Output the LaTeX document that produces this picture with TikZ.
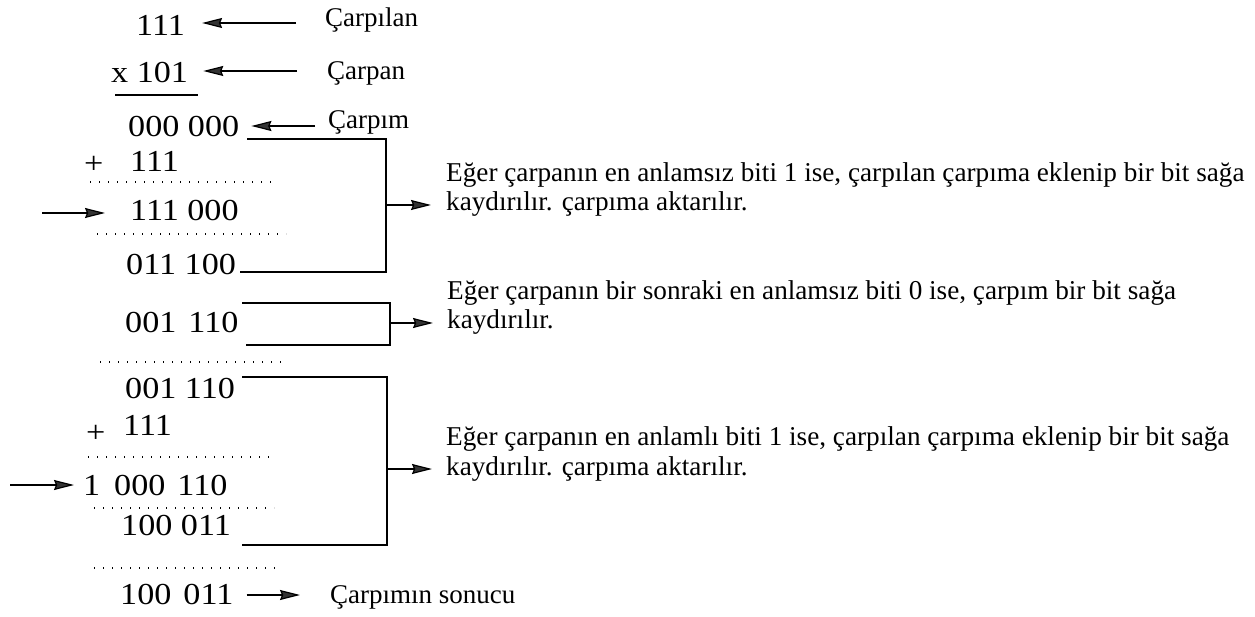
\documentclass[tikz,border=0pt]{standalone}
\usepackage{fontspec}
\setmainfont{Liberation Serif}
\newfontfamily\numfont[FakeStretch=1.12]{Liberation Serif}
\usetikzlibrary{arrows.meta}
\begin{document}
\begin{tikzpicture}[x=1pt,y=-1pt,
 num/.style={anchor=west,inner sep=0pt,text height=20pt,text depth=0pt,font=\numfont\fontsize{30.5}{36}\selectfont},
 lab/.style={anchor=west,inner sep=0pt,text height=17.8pt,text depth=0pt,font=\fontsize{27}{31}\selectfont},
 desc/.style={anchor=base west,inner sep=0pt,align=left,font=\fontsize{27.2}{29.5}\selectfont},
 arr/.style={-{Stealth[length=20pt,width=10pt,inset=2pt,fill=black!80]}, line width=1.2pt},
 brk/.style={line width=1.9pt},
 uline/.style={line width=1.2pt},
 dots/.style={line width=1.3pt,dash pattern=on 1.3pt off 7.7pt}]
\useasboundingbox (0,0) rectangle (1255,617);

% numbers column
\node[num] (n1) at (136,26) {111};
\node[num] (n2) at (111,73) {x 101};
\node[num] (n3) at (128,127) {000 000};
\node[num] (n4p) at (84,164) {+};
\node[num] (n4) at (130,162) {111};
\node[num] (n5) at (130,211) {111 000};
\node[num] (n6) at (126,265) {011 100};
\node[num] (n7) at (125,323) {001\hspace{12pt}110};
\node[num] (n8) at (125,388) {001 110};
\node[num] (n9p) at (86,432) {+};
\node[num] (n9) at (123,425) {111};
\node[num] (n10a) at (83,485) {1};
\node[num] (n10) at (114,485) {000\hspace{12pt}110};
\node[num] (n11) at (121,525) {100 011};
\node[num] (n12) at (120,594) {100\hspace{12pt}011};

% labels
\node[lab] (l1) at (325,18) {Çarpılan};
\node[lab] (l2) at (327,71) {Çarpan};
\node[lab] (l3) at (328,120) {Çarpım};
\node[lab] (l4) at (330,595) {Çarpımın sonucu};

% descriptions
\node[desc] (d1) at (446,211) {Eğer çarpanın en anlamsız biti 1 ise, çarpılan çarpıma eklenip bir bit sağa\\kaydırılır. çarpıma aktarılır.};
\node[desc] (d2) at (447,329) {Eğer çarpanın bir sonraki en anlamsız biti 0 ise, çarpım bir bit sağa\\kaydırılır.};
\node[desc] (d3) at (446,475) {Eğer çarpanın en anlamlı biti 1 ise, çarpılan çarpıma eklenip bir bit sağa\\kaydırılır. çarpıma aktarılır.};

% arrow heights
\coordinate (y1) at (0,23);
\coordinate (y2) at (0,71);
\coordinate (y3) at (0,126);
\coordinate (y4) at (0,595);
\coordinate (y5) at (0,213);
\coordinate (y10) at (0,485);

% label arrows
\draw[arr] ([xshift=-29pt]l1.west |- y1) -- ([xshift=17pt]n1.east |- y1);
\draw[arr] ([xshift=-30pt]l2.west |- y2) -- ([xshift=15pt]n2.east |- y2);
\draw[arr] ([xshift=-13pt]l3.west |- y3) -- ([xshift=12pt]n3.east |- y3);
\draw[arr] ([xshift=13pt]n12.east |- y4) -- ([xshift=-30pt]l4.west |- y4);

% incoming arrows on the left
\coordinate (a5) at (42,213);
\coordinate (a10) at (10,485);
\draw[arr] (a5) -- ([xshift=-25pt]n5.west |- y5);
\draw[arr] (a10) -- ([xshift=-9pt]n10a.west |- y10);

% underline and dotted rules
\draw[uline] (115,95) -- (198,95);
\draw[dots] (90,182) -- (272,182);
\draw[dots] (97,234) -- (286,234);
\draw[dots] (100,362) -- (287,362);
\draw[dots] (88,457) -- (270,457);
\draw[dots] (94,508) -- (274,508);
\draw[dots] (94,568) -- (275,568);

% brackets
\coordinate (b1a) at (247,139);
\coordinate (b1b) at (386,139);
\coordinate (b1c) at (386,272);
\coordinate (b1d) at (240,272);
\coordinate (b1m) at (386,205);
\draw[brk] (b1a) -- (b1b) -- (b1c) -- (b1d);
\draw[arr] (b1m) -- ([xshift=-15pt]d1.base west |- b1m);

\coordinate (b2a) at (242,303);
\coordinate (b2b) at (390,303);
\coordinate (b2c) at (390,345);
\coordinate (b2d) at (246,345);
\coordinate (b2m) at (390,323);
\draw[brk] (b2a) -- (b2b) -- (b2c) -- (b2d);
\draw[arr] (b2m) -- ([xshift=-14pt]d2.base west |- b2m);

\coordinate (b3a) at (242,377);
\coordinate (b3b) at (387,377);
\coordinate (b3c) at (387,545);
\coordinate (b3d) at (242,545);
\coordinate (b3m) at (387,469);
\draw[brk] (b3a) -- (b3b) -- (b3c) -- (b3d);
\draw[arr] (b3m) -- ([xshift=-14pt]d3.base west |- b3m);
\end{tikzpicture}
\end{document}
